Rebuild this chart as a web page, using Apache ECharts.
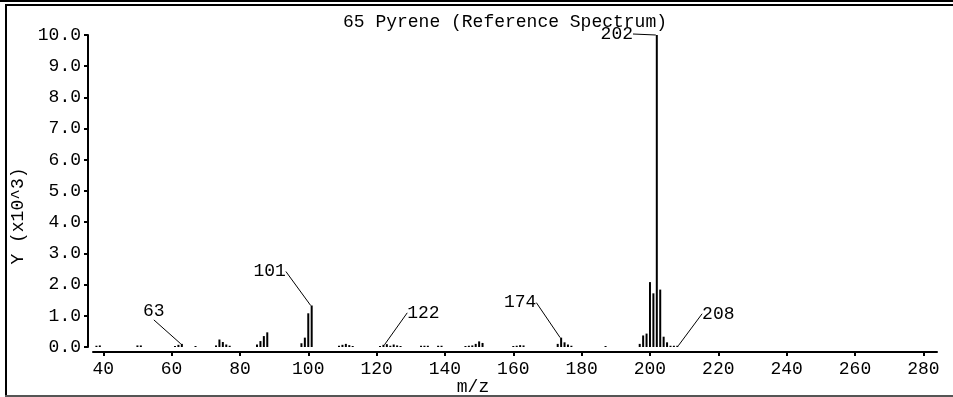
<!DOCTYPE html>
<html>
<head>
<meta charset="utf-8">
<script src="https://cdn.jsdelivr.net/npm/echarts@6/dist/echarts.min.js"></script>
<style>
html,body{margin:0;padding:0;background:#fff;}
#chart{width:953px;height:397px;}
</style>
</head>
<body>
<div id="chart"></div>
<script>
// m/z values and intensities (x10^3)
const mzValues = [38,39,50,51,61,62,63,67,73,74,75,76,77,85,86,87,88,98,99,100,101,
  109,110,111,112,113,121,122,123,124,125,126,127,133,134,135,138,139,
  146,147,148,149,150,151,160,161,162,163,173,174,175,176,177,187,
  197,198,199,200,201,202,203,204,205,206,207,208];
const intensities = [0.04,0.05,0.05,0.05,0.03,0.07,0.1,0.03,0.05,0.24,0.16,0.08,0.04,0.08,0.19,0.35,0.47,0.12,0.3,1.08,1.33,
  0.04,0.07,0.1,0.06,0.03,0.03,0.07,0.09,0.04,0.08,0.05,0.03,0.04,0.04,0.04,0.04,0.04,
  0.03,0.04,0.05,0.1,0.18,0.13,0.03,0.04,0.06,0.05,0.1,0.3,0.15,0.08,0.04,0.03,
  0.1,0.37,0.43,2.08,1.72,10.0,1.84,0.33,0.15,0.04,0.04,0.04];
const labelledPeaks = [63,101,122,174,202,208];
const xTickValues = [40,60,80,100,120,140,160,180,200,220,240,260,280];
const titleText = '65 Pyrene (Reference Spectrum)';
const xName = 'm/z';
const yName = 'Y (x10^3)';

// label offsets (style only)
const labelOffsets = {63:[-28,-19],101:[-42,-20],122:[40,-18],174:[-41,-21],202:[-40,13],208:[41,-18]};

const FONT = 'Liberation Mono';
const chart = echarts.init(document.getElementById('chart'), null, {renderer:'canvas'});
const data = mzValues.map((m,i)=>{
  const d = {value:[m, intensities[i]]};
  if (labelledPeaks.includes(m)) d.label = {show:true};
  return d;
});
chart.setOption({
  animation:false,
  backgroundColor:'#fff',
  title:{text:titleText,left:500,top:8,textAlign:'center',
    textStyle:{fontFamily:FONT,fontSize:18,fontWeight:'normal',color:'#000'}},
  grid:{left:93,right:16,top:35,bottom:50,containLabel:false,outerBoundsMode:'none'},
  xAxis:{type:'value',min:37,max:284,offset:5,
    name:xName,nameLocation:'middle',nameGap:26,nameMoveOverlap:false,
    nameTextStyle:{fontFamily:FONT,fontSize:18,color:'#000',padding:[0,84,4,0]},
    axisLine:{show:true,onZero:false,lineStyle:{color:'#000',width:2}},
    axisTick:{show:true,length:4,lineStyle:{color:'#000',width:2},customValues:xTickValues},
    axisLabel:{color:'#000',fontFamily:FONT,fontSize:18,margin:8,customValues:xTickValues},
    splitLine:{show:false}},
  yAxis:{type:'value',min:0,max:10,interval:1,offset:5,
    name:yName,nameLocation:'middle',nameRotate:90,nameGap:58,
    nameTextStyle:{fontFamily:FONT,fontSize:18,color:'#000',padding:[0,50,0,0]},
    axisLine:{show:true,onZero:false,lineStyle:{color:'#000',width:2}},
    axisTick:{show:true,length:4,lineStyle:{color:'#000',width:2}},
    axisLabel:{color:'#000',fontFamily:FONT,fontSize:18,margin:7,formatter:v=>v.toFixed(1)},
    splitLine:{show:false}},
  series:[{
    type:'bar',
    data:data,
    barWidth:2,
    barMinHeight:1,
    itemStyle:{color:'#000'},
    label:{show:false,position:'top',distance:5,formatter:p=>String(p.value[0]),
      fontFamily:FONT,fontSize:18,color:'#000'},
    labelLine:{show:true,lineStyle:{color:'#000',width:1}},
    labelLayout:function(p){
      const o = labelOffsets[mzValues[p.dataIndex]];
      return o ? {dx:o[0],dy:o[1]} : {};
    }
  }],
  graphic:[
    {type:'rect',shape:{x:0,y:0,width:953,height:2},style:{fill:'#000'},silent:true},
    {type:'rect',shape:{x:5,y:4,width:948,height:2},style:{fill:'#000'},silent:true},
    {type:'rect',shape:{x:5,y:4,width:2,height:393},style:{fill:'#000'},silent:true},
    {type:'rect',shape:{x:5,y:395,width:948,height:2},style:{fill:'#555'},silent:true}
  ]
});
</script>
</body>
</html>
